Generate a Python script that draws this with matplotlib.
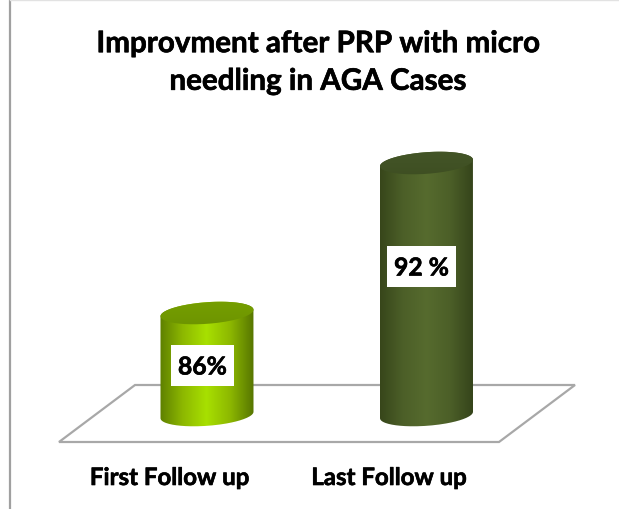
import numpy as np
import matplotlib
matplotlib.use("Agg")
import matplotlib.pyplot as plt
import matplotlib.patheffects as pe
from matplotlib.colors import LinearSegmentedColormap
from matplotlib.patches import PathPatch, Polygon, Rectangle
from matplotlib.path import Path

categories = ["First Follow up", "Last Follow up"]
values = [86, 92]
value_labels = ["86%", "92 %"]
title = "Improvment after PRP with micro\nneedling in AGA Cases"
side_colors = [["#5c7d00", "#8db800", "#a8e000", "#8db800", "#567500"],
               ["#36451a", "#4c5f28", "#566b2e", "#4c5f28", "#34431a"]]
top_colors = [["#79a300", "#6a9000"], ["#46582a", "#3c4c20"]]

W, H = 619, 510
fig = plt.figure(figsize=(W / 100, H / 100), dpi=100, facecolor="white")
plt.rcParams["font.family"] = ["Lato", "DejaVu Sans"]
ax = fig.add_axes([0, 0, 1, 1])

# scale: category 0 at px 207, category 1 at px 426.5; value 86 at py 314, 92 at py 164
sx, sy = 219.5, 25.0
ax.set_xlim(-207 / sx, (W - 207) / sx)
ax.set_ylim(86 - (H - 314) / sy, 86 + 314 / sy)
ax.axis("off")
baseline = 86 - (416 - 314) / sy

half_w, semi_min, tilt = 46.5, 10.8, np.radians(4.2)
heavy = [pe.withStroke(linewidth=0.45, foreground="black")]


def ellipse(cx, cy, t):
    # points in data units for a tilted ellipse defined in pixels
    a, b = half_w / np.cos(tilt), semi_min
    x = a * np.cos(t) * np.cos(tilt) - b * np.sin(t) * np.sin(tilt)
    y = a * np.cos(t) * np.sin(tilt) + b * np.sin(t) * np.cos(tilt)
    return np.column_stack([cx + x / sx, cy + y / sy])


px = fig.transFigure
def P(x, y):
    return (x / W, 1 - y / H)


# chart frame
fig.add_artist(plt.Line2D([P(9.5, 0)[0]] * 2, [0, 1], color="#a0a0a0", lw=1.6))
fig.add_artist(plt.Line2D([P(9.5, 0)[0], 1], [P(0, 0.5)[1]] * 2, color="#e2e2e2", lw=1.0))

# floor
floor = [P(59, 443), P(499, 443), P(575, 386), P(135, 386)]
ax.add_patch(Polygon(floor, closed=True, transform=px, fill=False,
                     edgecolor="#a8a8a8", lw=1.6, zorder=1))

t_back = np.linspace(0, np.pi, 80)
t_front = np.linspace(np.pi, 2 * np.pi, 80)
for i, (v, sc, tc) in enumerate(zip(values, side_colors, top_colors)):
    bottom = ellipse(i, baseline, t_front)
    top = ellipse(i, v, t_back)
    body = np.vstack([bottom, top, bottom[:1]])
    patch = PathPatch(Path(body), facecolor="none", edgecolor="none", zorder=2)
    ax.add_patch(patch)
    cmap = LinearSegmentedColormap.from_list("side", sc)
    dx = (half_w + 1) / sx
    im = ax.imshow(np.linspace(0, 1, 256)[None, :], cmap=cmap, aspect="auto",
                   extent=[i - dx, i + dx, baseline - 2, v + 2], zorder=2)
    im.set_clip_path(patch)

    lid = ellipse(i, v, np.linspace(0, 2 * np.pi, 160))
    lid_patch = PathPatch(Path(lid), facecolor="none", edgecolor="none", zorder=3)
    ax.add_patch(lid_patch)
    lid_cmap = LinearSegmentedColormap.from_list("lid", tc)
    im2 = ax.imshow(np.linspace(0, 1, 64)[:, None], cmap=lid_cmap, aspect="auto",
                    extent=[i - dx, i + dx, v - 1, v + 1], zorder=3)
    im2.set_clip_path(lid_patch)

ax.set_xlim(-207 / sx, (W - 207) / sx)
ax.set_ylim(86 - (H - 314) / sy, 86 + 314 / sy)

# value labels
boxes = [(171, 346, 63, 41), (387, 247, 69, 41)]
for lab, (x, y, w, h) in zip(value_labels, boxes):
    ax.add_patch(Rectangle(P(x, y + h), w / W, h / H, transform=px,
                           facecolor="white", edgecolor="none", zorder=5))
    ax.text(*P(x + w / 2, y + h / 2 + 1.5), lab, transform=px, ha="center", va="center",
            fontsize=17.8, fontweight="bold", color="black", zorder=6, path_effects=heavy)

# category labels
for lab, xp in zip(categories, [169.5, 389]):
    ax.text(*P(xp, 478.5), lab, transform=px, ha="center", va="center",
            fontsize=17.3, fontweight="bold", color="black", path_effects=heavy)

# title
ax.text(*P(318, 63), title, transform=px, ha="center", va="center", fontsize=21.3,
        fontweight="bold", color="black", linespacing=1.42, path_effects=heavy)

fig.savefig("out.png", dpi=100)
